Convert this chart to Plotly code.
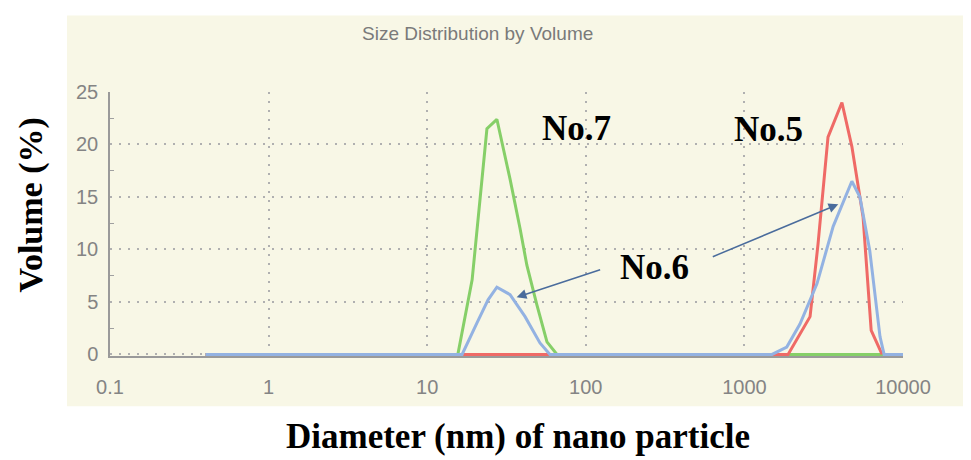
import plotly.graph_objects as go

# ---- data ----
green_x = [0.4, 15.6, 19.2, 23.8, 27.5, 33.3, 38.5, 42.5, 49.2, 56.9, 65.8, 7480]
green_y = [0, 0, 7.1, 21.5, 22.4, 16.7, 12.0, 8.5, 4.7, 1.2, 0, 0]

red_x = [0.4, 1885, 2594, 2912, 3366, 4120, 4760, 5600, 6300, 7380]
red_y = [0, 0, 3.6, 10.5, 20.7, 24.0, 19.8, 13.1, 2.3, 0]

blue_x = [0.4, 16.6, 20.6, 24.2, 27.5, 33.3, 41.4, 51.4, 59.4,
          1493, 1850, 2240, 2870, 3630, 4760, 5350, 6170, 7160, 7600, 10000]
blue_y = [0, 0, 3.0, 5.2, 6.4, 5.7, 3.6, 1.1, 0,
          0, 0.7, 2.9, 6.75, 12.2, 16.5, 15.0, 9.9, 1.7, 0, 0]

x_ticks = [0.1, 1, 10, 100, 1000, 10000]
x_tick_labels = ["0.1", "1", "10", "100", "1000", "10000"]
y_ticks = [0, 5, 10, 15, 20, 25]

fig = go.Figure()
fig.add_trace(go.Scatter(x=green_x, y=green_y, mode="lines",
                         line=dict(color="#86cf68", width=3), name="No.7"))
fig.add_trace(go.Scatter(x=red_x, y=red_y, mode="lines",
                         line=dict(color="#ef6a66", width=3), name="No.5"))
fig.add_trace(go.Scatter(x=blue_x, y=blue_y, mode="lines",
                         line=dict(color="#93b2e2", width=3), name="No.6"))

serif = "Liberation Serif"
sans = "Liberation Sans"

fig.update_layout(
    width=963, height=452,
    margin=dict(l=102, r=68, t=84, b=104),
    paper_bgcolor="white",
    plot_bgcolor="rgba(0,0,0,0)",
    showlegend=False,
    shapes=[dict(type="rect", xref="paper", yref="paper",
                 x0=-0.0542, x1=1.1, y0=-0.19, y1=1.29,
                 fillcolor="#f8f7e6", line=dict(width=0), layer="below")],
)

grid_dash = "2px,7px"
fig.update_xaxes(
    type="log", range=[-1, 4],
    tickvals=x_ticks, ticktext=x_tick_labels,
    showgrid=True, griddash=grid_dash, gridcolor="#b0b0b0", gridwidth=2,
    showline=True, linecolor="#9a9a9a", linewidth=1.5,
    ticks="", ticklabelstandoff=12,
    tickfont=dict(family=sans, size=20, color="#848484"),
    zeroline=False, layer="below traces",
)
fig.update_yaxes(
    range=[-0.15, 25], tickvals=y_ticks,
    showgrid=True, griddash=grid_dash, gridcolor="#b0b0b0", gridwidth=2,
    showline=True, linecolor="#9a9a9a", linewidth=1.5,
    ticks="", ticklabelstandoff=6,
    tickfont=dict(family=sans, size=20, color="#848484"),
    minor=dict(tickvals=[2.5, 7.5, 12.5, 17.5, 22.5], ticks="inside", ticklen=4,
               tickcolor="#a0a0a0", showgrid=False),
    zeroline=False, layer="below traces",
)

ann = []
ann.append(dict(text="Size Distribution by Volume", xref="paper", yref="paper",
                x=0.464, y=1.22, showarrow=False,
                xanchor="center", yanchor="middle",
                font=dict(family=sans, size=19, color="#7a7a7a")))
ann.append(dict(text="<b>Volume (%)</b>", xref="paper", yref="paper",
                x=-0.0996, y=0.57, textangle=-90, showarrow=False,
                xanchor="center", yanchor="middle",
                font=dict(family=serif, size=34, color="black")))
ann.append(dict(text="<b>Diameter (nm) of nano particle</b>", xref="paper", yref="paper",
                x=0.5145, y=-0.305, showarrow=False,
                xanchor="center", yanchor="middle",
                font=dict(family=serif, size=35, color="black")))
for label, lx, ly in [("No.7", 1.944, 21.5), ("No.5", 3.149, 21.4), ("No.6", 2.430, 8.27)]:
    ann.append(dict(text="<b>%s</b>" % label, x=lx, y=ly, xref="x", yref="y",
                    showarrow=False, xanchor="center", yanchor="middle",
                    font=dict(family=serif, size=35, color="black")))
# arrows from No.6 to the two blue peaks
for hx, hy, dx, dy in [(1.564, 5.45, 85, -28), (3.592, 14.3, -127, 53)]:
    ann.append(dict(text="", x=hx, y=hy, xref="x", yref="y",
                    ax=dx, ay=dy, axref="pixel", ayref="pixel",
                    showarrow=True, arrowhead=2, arrowsize=1.3, arrowwidth=1.5,
                    arrowcolor="#4a6c9c", standoff=0))
fig.update_layout(annotations=ann)

fig.write_html("out.html")
